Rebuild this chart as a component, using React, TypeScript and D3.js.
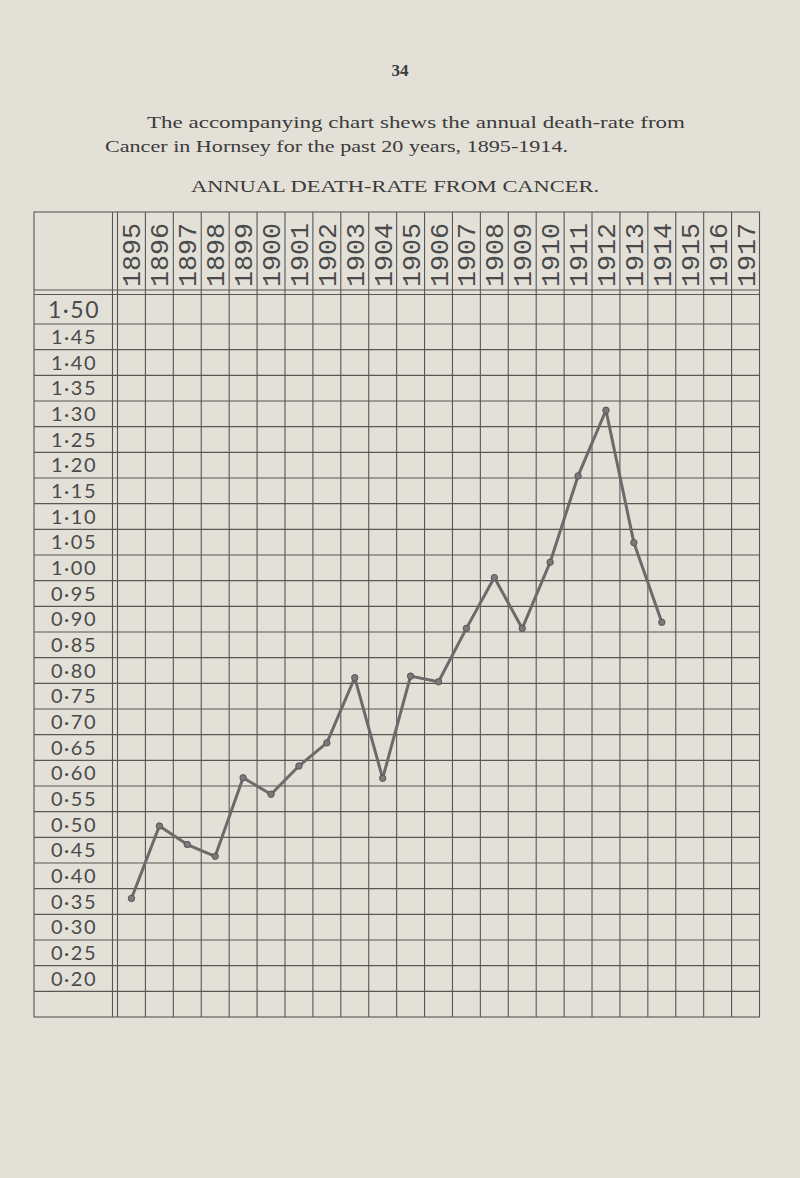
import * as d3 from "d3";

// columns of the ruled sheet (1915-1917 are left blank)
const years = [1895, 1896, 1897, 1898, 1899, 1900, 1901, 1902, 1903, 1904, 1905, 1906,
  1907, 1908, 1909, 1910, 1911, 1912, 1913, 1914, 1915, 1916, 1917];
// row labels, top to bottom
const rateLabels = ["1·50", "1·45", "1·40", "1·35", "1·30", "1·25", "1·20", "1·15", "1·10",
  "1·05", "1·00", "0·95", "0·90", "0·85", "0·80", "0·75", "0·70", "0·65", "0·60", "0·55",
  "0·50", "0·45", "0·40", "0·35", "0·30", "0·25", "0·20"];
const rateValues = rateLabels.map((s) => +s.replace("·", "."));
// annual death-rate from cancer
const dataYears = [1895, 1896, 1897, 1898, 1899, 1900, 1901, 1902, 1903, 1904,
  1905, 1906, 1907, 1908, 1909, 1910, 1911, 1912, 1913, 1914];
const deathRate = [0.356, 0.497, 0.461, 0.438, 0.591, 0.559, 0.614, 0.659, 0.786, 0.59,
  0.789, 0.778, 0.882, 0.981, 0.882, 1.011, 1.179, 1.307, 1.049, 0.894];

const W = 800, H = 1178;
const left = 34, labelEdge = 112.5, gridLeft = 117.5, right = 759.5;
const top = 212, headBottom = 290, firstRowTop = 294.5, secondRowTop = 324, bottom = 1017;
const ink = "#575757";
const paper = "#e3e0d7";

export default function App() {
  const x = d3.scaleBand<number>().domain(years).range([gridLeft, right]).padding(0);
  const rowH = (bottom - secondRowTop) / (rateLabels.length); // 26 labelled rows + 1 blank
  // value -> centre of the row that carries its label
  const y = d3.scaleLinear()
    .domain([rateValues[1], rateValues[rateValues.length - 1]])
    .range([secondRowTop + rowH / 2, secondRowTop + rowH * (rateValues.length - 2) + rowH / 2]);

  const rowLines = [firstRowTop, ...d3.range(0, rateLabels.length + 1).map((i) => secondRowTop + i * rowH)];
  const colLines = years.slice(1).map((yr) => x(yr)!);

  const pts = dataYears.map((yr, i) => [x(yr)! + x.bandwidth() / 2, y(deathRate[i])] as [number, number]);
  const line = d3.line();

  return (
    <div style={{ position: "absolute", left: 0, top: 0 }}>
      <svg width={W} height={H} style={{ display: "block", background: paper }}>
        <rect width={W} height={H} fill={paper} />
        {/* page text */}
        <g fill="#3b3b3b" fontFamily="'Liberation Serif', 'DejaVu Serif', serif">
          <text x={400} y={76} textAnchor="middle" fontSize={17} fontWeight="bold">34</text>
          <text x={147} y={128} fontSize={17.5} textLength={538} lengthAdjust="spacingAndGlyphs">
            The accompanying chart shews the annual death-rate from
          </text>
          <text x={105} y={152} fontSize={17.5} textLength={463} lengthAdjust="spacingAndGlyphs">
            Cancer in Hornsey for the past 20 years, 1895-1914.
          </text>
          <text x={191} y={192} fontSize={17.5} textLength={408} lengthAdjust="spacingAndGlyphs">
            ANNUAL DEATH-RATE FROM CANCER.
          </text>
        </g>

        {/* ruled grid */}
        <g stroke={ink} strokeWidth={1.1} fill="none">
          <rect x={left} y={top} width={right - left} height={bottom - top} />
          <line x1={left} x2={right} y1={headBottom} y2={headBottom} />
          {rowLines.slice(0, -1).map((yy, i) => (
            <line key={"r" + i} x1={left} x2={right} y1={yy} y2={yy} />
          ))}
          <line x1={labelEdge} x2={labelEdge} y1={top} y2={bottom} />
          <line x1={gridLeft} x2={gridLeft} y1={top} y2={bottom} />
          {colLines.map((xx, i) => (
            <line key={"c" + i} x1={xx} x2={xx} y1={top} y2={bottom} />
          ))}
        </g>

        {/* year heads */}
        <g fill="#4a4a4a" fontFamily="'Liberation Mono', 'DejaVu Sans Mono', monospace" fontSize={25}>
          {years.map((yr) => (
            <text key={yr} transform={`translate(${x(yr)! + x.bandwidth() / 2},${headBottom - 3}) rotate(-90)`}
              dy="0.36em" textLength={64} lengthAdjust="spacingAndGlyphs">{yr}</text>
          ))}
        </g>

        {/* rate labels */}
        <g fill="#4a4a4a" fontFamily="Lato, 'DejaVu Sans', sans-serif" textAnchor="middle">
          {rateLabels.map((lab, i) => {
            const cy = i === 0 ? (firstRowTop + secondRowTop) / 2 : y(rateValues[i]);
            return (
              <text key={lab} x={74} y={cy} dy="0.36em" fontSize={i === 0 ? 23 : 20}
                letterSpacing={1.5}>{lab}</text>
            );
          })}
        </g>

        {/* death-rate line */}
        <path d={line(pts)!} fill="none" stroke="#6b6b6b" strokeWidth={3} strokeLinejoin="round" />
        {pts.map(([px, py], i) => (
          <circle key={i} cx={px} cy={py} r={3.2} fill="#7a7a7a" stroke="#555" strokeWidth={1} />
        ))}
      </svg>
    </div>
  );
}
